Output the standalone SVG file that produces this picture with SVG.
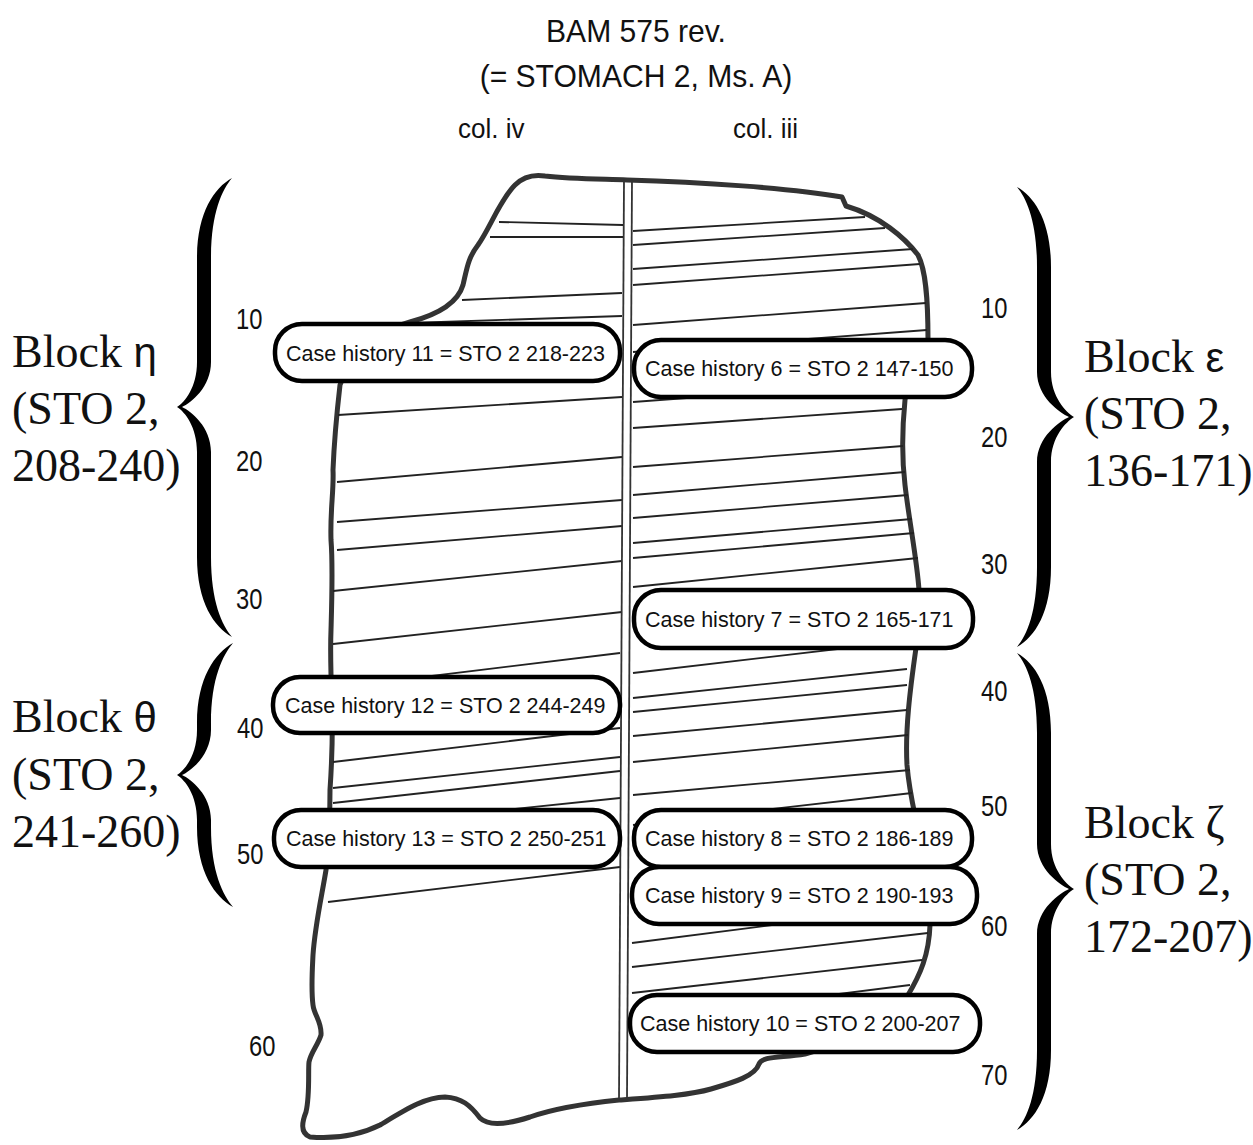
<svg xmlns="http://www.w3.org/2000/svg" width="1253" height="1145" viewBox="0 0 1253 1145">
<style>
.outline{fill:#fff;stroke:#333;stroke-width:5;stroke-linejoin:round}
.hatch line{stroke:#222;stroke-width:1.8}
.div{stroke:#333;stroke-width:1.8}
.box rect{fill:#fff;stroke:#000;stroke-width:4.5}
.box text{font-family:"Liberation Sans",Arial,sans-serif;font-size:21.5px;fill:#111}
.num{font-family:"Liberation Sans",Arial,sans-serif;font-size:29px;fill:#111}
.title{font-family:"Liberation Sans",Arial,sans-serif;font-size:32px;fill:#111;text-anchor:middle}
.col{font-family:"Liberation Sans",Arial,sans-serif;font-size:28px;fill:#111}
.blk text{font-family:"Liberation Serif","Times New Roman",serif;font-size:46px;fill:#111}
.blk tspan.g{font-family:"Liberation Sans",Arial,sans-serif;font-size:42px}
.brace{fill:#000}
</style>
<rect width="1253" height="1145" fill="#fff"/>
<g id="title">
<text class="title" transform="translate(636,42) scale(0.94,1)">BAM 575 rev.</text>
<text class="title" transform="translate(636,87) scale(0.94,1)">(= STOMACH 2, Ms. A)</text>
<text class="col" transform="translate(458,138) scale(0.93,1)">col. iv</text>
<text class="col" transform="translate(733,138) scale(0.93,1)">col. iii</text>
</g>
<g id="tablet">
<path class="outline" d="M 410,322 C 440,314 458,302 463,285 C 467,268 468,258 478,245 C 490,228 500,200 515,185 C 522,178 532,174 545,176 C 570,179 600,179 627,180 C 700,182 790,188 842,197 L 846,206 C 880,216 905,238 918,255 C 926,270 928,300 928,340 C 928,365 907,380 905,400 C 902,430 902,460 905,485 C 909,520 917,560 919,590 C 920,610 918,630 916,648 C 910,690 905,730 907,765 C 909,790 914,810 918,830 C 924,870 931,900 930,925 C 929,955 920,975 908,995 C 885,1025 840,1045 805,1054 C 780,1058 762,1056 759,1064 C 755,1076 735,1082 711,1089 C 690,1095 660,1097 619,1100 C 580,1104 550,1110 530,1117 C 505,1125 488,1126 480,1118 C 470,1105 462,1098 445,1097 C 425,1097 405,1110 380,1125 C 360,1135 335,1139 310,1137 C 300,1133 302,1122 306,1112 C 310,1095 308,1070 309,1062 C 311,1052 318,1045 321,1035 C 322,1022 314,1015 313,1005 C 311,990 312,975 313,955 C 315,925 322,895 326,870 C 330,835 330,810 330,790 C 332,760 333,740 332,705 C 331,680 330,655 331,630 C 332,595 333,565 331,540 C 330,510 334,490 333,470 C 334,445 336,420 340,385 C 352,350 380,330 410,322 Z"/>
<g class="hatch">
<line x1="499" y1="222" x2="623" y2="225"/>
<line x1="490" y1="237" x2="623" y2="237"/>
<line x1="462" y1="300" x2="622" y2="293"/>
<line x1="410" y1="323" x2="622" y2="316"/>
<line x1="338" y1="415" x2="622" y2="397"/>
<line x1="337" y1="482" x2="622" y2="457"/>
<line x1="337" y1="522" x2="622" y2="500"/>
<line x1="337" y1="550" x2="622" y2="526"/>
<line x1="333" y1="591" x2="622" y2="561"/>
<line x1="333" y1="644" x2="622" y2="612"/>
<line x1="333" y1="688" x2="620" y2="653"/>
<line x1="333" y1="762" x2="620" y2="728"/>
<line x1="333" y1="788" x2="620" y2="757"/>
<line x1="333" y1="803" x2="620" y2="771"/>
<line x1="330" y1="828" x2="620" y2="798"/>
<line x1="328" y1="902" x2="620" y2="867"/>
<line x1="633" y1="231" x2="865" y2="217"/>
<line x1="633" y1="245" x2="885" y2="228"/>
<line x1="633" y1="269" x2="913" y2="249"/>
<line x1="633" y1="285" x2="920" y2="264"/>
<line x1="633" y1="325" x2="926" y2="303"/>
<line x1="633" y1="352" x2="927" y2="330"/>
<line x1="633" y1="402" x2="905" y2="382"/>
<line x1="633" y1="428" x2="902" y2="409"/>
<line x1="633" y1="467" x2="903" y2="446"/>
<line x1="633" y1="495" x2="905" y2="472"/>
<line x1="633" y1="518" x2="908" y2="495"/>
<line x1="633" y1="543" x2="912" y2="519"/>
<line x1="633" y1="558" x2="914" y2="533"/>
<line x1="633" y1="587" x2="918" y2="558"/>
<line x1="633" y1="673" x2="915" y2="640"/>
<line x1="633" y1="698" x2="907" y2="669"/>
<line x1="633" y1="712" x2="907" y2="685"/>
<line x1="633" y1="736" x2="907" y2="710"/>
<line x1="633" y1="762" x2="908" y2="735"/>
<line x1="633" y1="795" x2="910" y2="770"/>
<line x1="633" y1="825" x2="912" y2="793"/>
<line x1="632" y1="943" x2="930" y2="905"/>
<line x1="632" y1="967" x2="928" y2="933"/>
<line x1="632" y1="993" x2="922" y2="960"/>
<line x1="632" y1="1020" x2="910" y2="985"/>
</g>
<line class="div" x1="624" y1="179" x2="619" y2="1100"/>
<line class="div" x1="632" y1="179" x2="627" y2="1100"/>
</g>
<g id="case11" class="box"><rect x="275" y="324" width="345" height="57" rx="27"/><text x="286" y="361">Case history 11 = STO 2 218-223</text></g>
<g id="case6" class="box"><rect x="634" y="340" width="338" height="57" rx="27"/><text x="645" y="376">Case history 6 = STO 2 147-150</text></g>
<g id="case7" class="box"><rect x="634" y="590" width="339" height="58" rx="27"/><text x="645" y="627">Case history 7 = STO 2 165-171</text></g>
<g id="case12" class="box"><rect x="273" y="677" width="347" height="56" rx="27"/><text x="285" y="713">Case history 12 = STO 2 244-249</text></g>
<g id="case13" class="box"><rect x="274" y="810" width="346" height="57" rx="27"/><text x="286" y="846">Case history 13 = STO 2 250-251</text></g>
<g id="case8" class="box"><rect x="634" y="810" width="338" height="57" rx="27"/><text x="645" y="846">Case history 8 = STO 2 186-189</text></g>
<g id="case9" class="box"><rect x="632" y="867" width="345" height="57" rx="27"/><text x="645" y="903">Case history 9 = STO 2 190-193</text></g>
<g id="case10" class="box"><rect x="630" y="995" width="350" height="57" rx="27"/><text x="640" y="1031">Case history 10 = STO 2 200-207</text></g>
<g id="line-numbers">
<text class="num" transform="translate(236,328.5) scale(0.82,1)">10</text>
<text class="num" transform="translate(236,470.5) scale(0.82,1)">20</text>
<text class="num" transform="translate(236,608.5) scale(0.82,1)">30</text>
<text class="num" transform="translate(237,738) scale(0.82,1)">40</text>
<text class="num" transform="translate(237,864) scale(0.82,1)">50</text>
<text class="num" transform="translate(249,1056) scale(0.82,1)">60</text>
<text class="num" transform="translate(981,318) scale(0.82,1)">10</text>
<text class="num" transform="translate(981,446.5) scale(0.82,1)">20</text>
<text class="num" transform="translate(981,573.5) scale(0.82,1)">30</text>
<text class="num" transform="translate(981,701) scale(0.82,1)">40</text>
<text class="num" transform="translate(981,815.5) scale(0.82,1)">50</text>
<text class="num" transform="translate(981,935.5) scale(0.82,1)">60</text>
<text class="num" transform="translate(981,1084.5) scale(0.82,1)">70</text>
</g>
<g id="block-eta" class="blk">
<path class="brace" d="M 232,178 C 214,188 197,213 197,258 L 197,362 C 197,387 185,402 177,407 C 185,412 197,427 197,452 L 197,557 C 197,602 214,627 232,637 C 222,625 211,602 211,557 L 211,452 C 211,427 191,411 182,407 C 191,403 211,387 211,362 L 211,258 C 211,213 222,190 232,178 Z"/>
<text x="12" y="367">Block <tspan class="g">η</tspan></text>
<text x="12" y="424">(STO 2,</text>
<text x="12" y="481">208-240)</text>
</g>
<g id="block-theta" class="blk">
<path class="brace" d="M 233,643 C 215,653 197,678 197,723 L 197,730 C 197,755 185,770 177,775 C 185,780 197,795 197,820 L 197,827 C 197,872 215,897 233,907 C 223,895 211,872 211,827 L 211,820 C 211,795 191,779 182,775 C 191,771 211,755 211,730 L 211,723 C 211,678 223,655 233,643 Z"/>
<text x="12" y="732">Block <tspan class="g">θ</tspan></text>
<text x="12" y="790">(STO 2,</text>
<text x="12" y="847">241-260)</text>
</g>
<g id="block-epsilon" class="blk">
<path class="brace" d="M 1017,187 C 1035,197 1051,222 1051,267 L 1051,372 C 1051,397 1066,412 1074,417 C 1066,422 1051,437 1051,462 L 1051,567 C 1051,612 1035,637 1017,647 C 1027,635 1037,612 1037,567 L 1037,462 C 1037,437 1060,421 1069,417 C 1060,413 1037,397 1037,372 L 1037,267 C 1037,222 1027,199 1017,187 Z"/>
<text x="1084" y="372">Block <tspan class="g">ε</tspan></text>
<text x="1084" y="429">(STO 2,</text>
<text x="1084" y="486">136-171)</text>
</g>
<g id="block-zeta" class="blk">
<path class="brace" d="M 1017,653 C 1035,663 1051,688 1051,733 L 1051,844 C 1051,869 1066,884 1074,889 C 1066,894 1051,909 1051,934 L 1051,1050 C 1051,1095 1035,1120 1017,1130 C 1027,1118 1037,1095 1037,1050 L 1037,934 C 1037,909 1060,893 1069,889 C 1060,885 1037,869 1037,844 L 1037,733 C 1037,688 1027,665 1017,653 Z"/>
<text x="1084" y="838">Block ζ</text>
<text x="1084" y="895">(STO 2,</text>
<text x="1084" y="952">172-207)</text>
</g>
</svg>
